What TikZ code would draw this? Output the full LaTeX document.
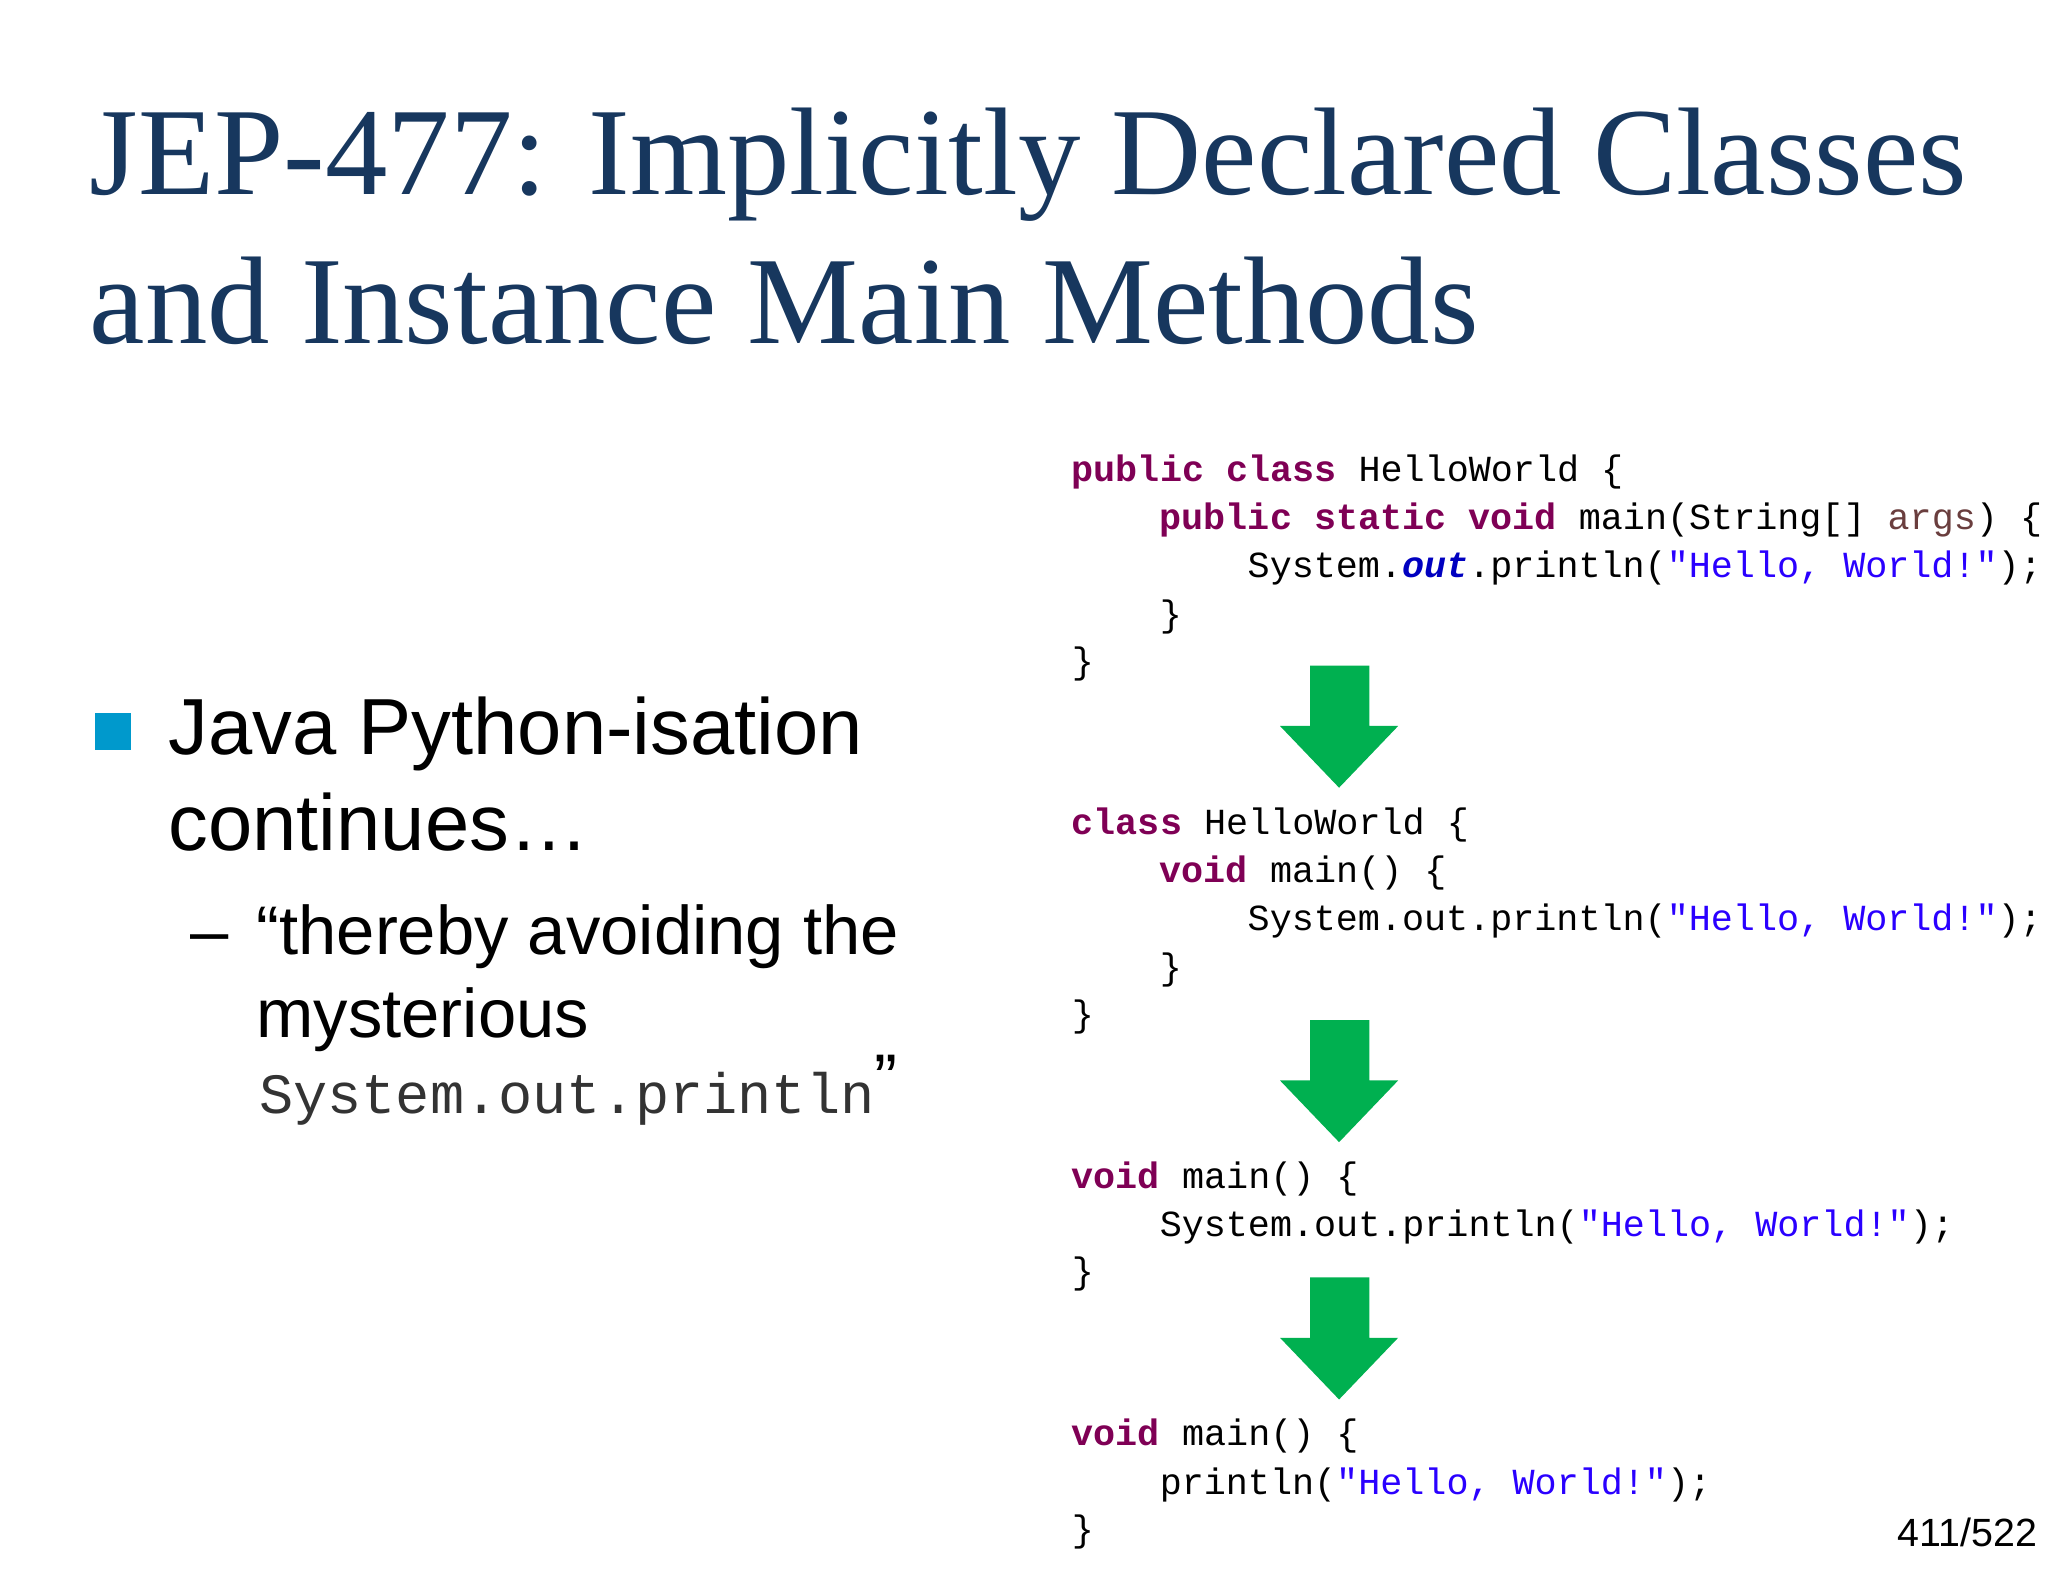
\documentclass[tikz,border=0pt]{standalone}
\usepackage{fontspec}
\setmainfont{Liberation Serif}
\setsansfont{Liberation Sans}
\setmonofont{Liberation Mono}
\definecolor{titleblue}{HTML}{17375E}
\definecolor{kw}{HTML}{7F0055}
\definecolor{str}{HTML}{2A00FF}
\definecolor{argc}{HTML}{6A3E3E}
\definecolor{fld}{HTML}{0000C0}
\definecolor{arrowgreen}{HTML}{00B050}
\definecolor{bullet}{HTML}{0099CC}
\newcommand{\K}[1]{\textcolor{kw}{\textbf{#1}}}
\newcommand{\Sx}[1]{\textcolor{str}{#1}}
\begin{document}
\begin{tikzpicture}[x=0.5pt,y=-0.5pt,
  title/.style={anchor=base west,inner sep=0,font=\fontsize{47.5}{56}\selectfont,text=titleblue},
  body/.style={anchor=base west,inner sep=0,font=\sffamily\fontsize{30.3}{36}\selectfont},
  sub/.style={anchor=base west,inner sep=0,font=\sffamily\fontsize{26.2}{32}\selectfont},
  code/.style={anchor=base west,inner sep=0,font=\ttfamily\fontsize{14}{17}\selectfont},
  greenarrow/.style={fill=arrowgreen,draw=none}]
\useasboundingbox (0,0) rectangle (1560,1205);
\node[title] (t1) at (68,148) {JEP-477: Implicitly Declared Classes};
\node[title] (t2) at (68,262) {and Instance Main Methods};
\fill[bullet] (72,543) rectangle (100,571);
\node[body] (b1) at (128,575) {Java Python-isation};
\node[body] (b2) at (128,648) {continues…};
\node[sub] (d) at (145,727) {–};
\node[sub] (s1) at (195,727) {“thereby avoiding the};
\node[sub] (s2) at (195,790) {mysterious};
\node[anchor=base west,inner sep=0] (s3) at (197,848) {\ttfamily\fontsize{21.7}{26}\selectfont\color{black!80}System.out.println\textcolor{black}{\sffamily\fontsize{26.2}{32}\selectfont\raisebox{0.3ex}{”}}};
% block 1
\node[code] (a1) at (816,367) {\K{public} \K{class} HelloWorld \{};
\node[code] (a2) at (883,403) {\K{public} \K{static} \K{void} main(String[] \textcolor{argc}{args}) \{};
\node[code] (a3) at (950,440) {System.\textcolor{fld}{\textbf{\textit{out}}}.println(\Sx{"Hello, World!"});};
\node[code] (a4) at (883,477) {\}};
\node[code] (a5) at (816,513) {\}};
% block 2
\node[code] (c1) at (816,636) {\K{class} HelloWorld \{};
\node[code] (c2) at (883,672) {\K{void} main() \{};
\node[code] (c3) at (950,709) {System.out.println(\Sx{"Hello, World!"});};
\node[code] (c4) at (883,746) {\}};
\node[code] (c5) at (816,782) {\}};
% block 3
\node[code] (e1) at (816,905) {\K{void} main() \{};
\node[code] (e2) at (883,942) {System.out.println(\Sx{"Hello, World!"});};
\node[code] (e3) at (816,978) {\}};
% block 4
\node[code] (f1) at (816,1101) {\K{void} main() \{};
\node[code] (f2) at (883,1138) {println(\Sx{"Hello, World!"});};
\node[code] (f3) at (816,1174) {\}};
% arrows
\foreach \y in {507,777,973}{
  \fill[greenarrow] (998,\y) -- (1043,\y) -- (1043,\y+46) -- (1065,\y+46) -- (1020,\y+93) -- (975,\y+46) -- (998,\y+46) -- cycle;
}
\node[anchor=base east,inner sep=0,font=\sffamily\fontsize{15}{18}\selectfont] (pg) at (1552,1178) {411/522};
\end{tikzpicture}
\end{document}
